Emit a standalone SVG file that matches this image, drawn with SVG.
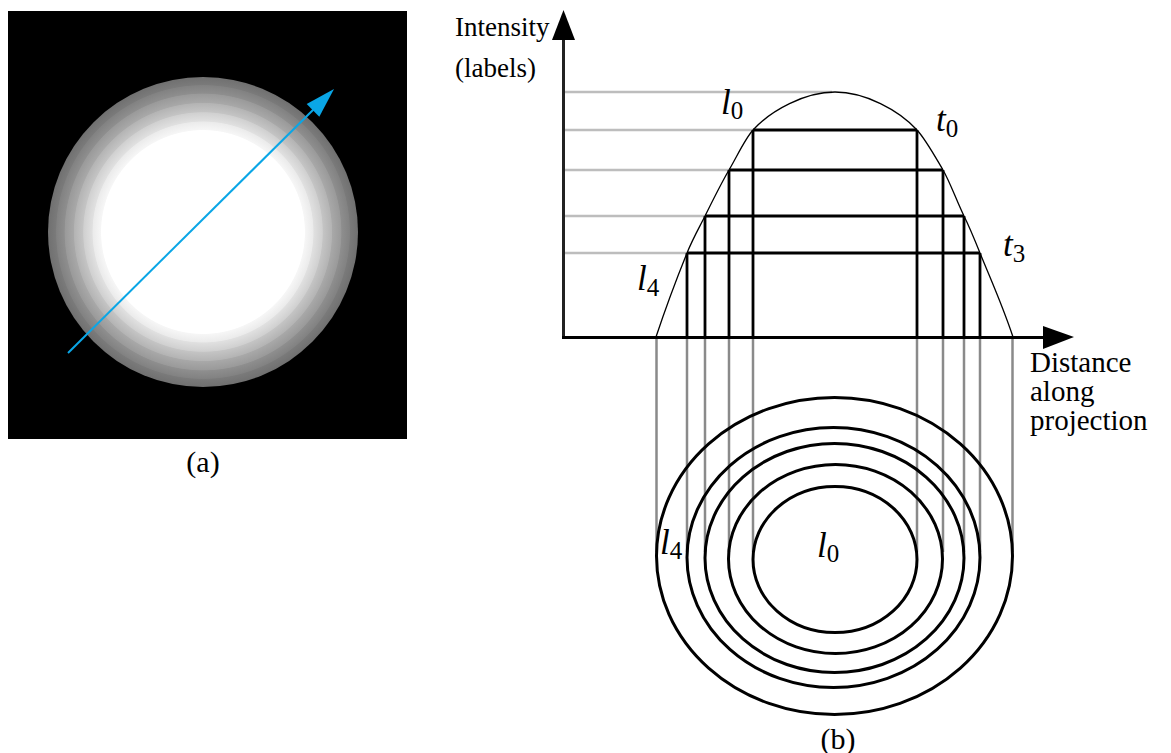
<svg xmlns="http://www.w3.org/2000/svg" width="1171" height="753" viewBox="0 0 1171 753">
<style>
.txt{font-family:"Liberation Serif","Times New Roman",serif;fill:#000}
.it{font-family:"Liberation Serif","Times New Roman",serif;font-style:italic;font-size:35px;fill:#000}
.sub{font-style:normal;font-size:25px}
.gh{stroke:#bdbdbd;stroke-width:2.5;fill:none}
.gv{stroke:#8a8a8a;stroke-width:2.5;fill:none}
.bk{stroke:#000;stroke-width:2.8;fill:none}
.ell{stroke:#000;stroke-width:3;fill:none}
</style>
<defs>
<radialGradient id="glow" cx="203" cy="232" r="155" gradientUnits="userSpaceOnUse">
<stop offset="0" stop-color="#fff"/>
<stop offset="0.655" stop-color="#fff"/>
<stop offset="0.66" stop-color="#f6f6f6"/>
<stop offset="0.71" stop-color="#ebebeb"/>
<stop offset="0.715" stop-color="#e0e0e0"/>
<stop offset="0.77" stop-color="#d0d0d0"/>
<stop offset="0.775" stop-color="#c4c4c4"/>
<stop offset="0.83" stop-color="#b4b4b4"/>
<stop offset="0.835" stop-color="#a8a8a8"/>
<stop offset="0.89" stop-color="#9a9a9a"/>
<stop offset="0.895" stop-color="#8e8e8e"/>
<stop offset="0.945" stop-color="#828282"/>
<stop offset="0.95" stop-color="#7a7a7a"/>
<stop offset="1" stop-color="#707070"/>
</radialGradient>
</defs>
<rect width="1171" height="753" fill="#fff"/>

<g id="panel-a">
<rect x="8" y="11" width="399" height="428" fill="#000"/>
<circle cx="203" cy="232" r="155" fill="url(#glow)"/>
<line x1="68" y1="353" x2="318" y2="105" stroke="#0aa6e6" stroke-width="2"/>
<polygon points="334,89 306.7,104 319.3,116.7" fill="#0aa6e6"/>
<text class="txt" x="203" y="472" font-size="30" text-anchor="middle">(a)</text>
</g>

<g id="connectors">
<g id="gray-levels">
<line class="gh" x1="565" y1="92" x2="832" y2="92"/>
<line class="gh" x1="565" y1="130" x2="753" y2="130"/>
<line class="gh" x1="565" y1="170" x2="729" y2="170"/>
<line class="gh" x1="565" y1="216" x2="705" y2="216"/>
<line class="gh" x1="565" y1="253" x2="687" y2="253"/>
</g>
<g id="black-levels">
<line class="bk" x1="753" y1="130" x2="917" y2="130"/>
<line class="bk" x1="729" y1="170" x2="943" y2="170"/>
<line class="bk" x1="705" y1="216" x2="964" y2="216"/>
<line class="bk" x1="687" y1="253" x2="980" y2="253"/>
<line class="bk" x1="753" y1="130" x2="753" y2="337"/>
<line class="bk" x1="729" y1="170" x2="729" y2="337"/>
<line class="bk" x1="705" y1="216" x2="705" y2="337"/>
<line class="bk" x1="687" y1="253" x2="687" y2="337"/>
<line class="bk" x1="917" y1="130" x2="917" y2="337"/>
<line class="bk" x1="943" y1="170" x2="943" y2="337"/>
<line class="bk" x1="964" y1="216" x2="964" y2="337"/>
<line class="bk" x1="980" y1="253" x2="980" y2="337"/>
</g>
<g id="projections">
<line class="gv" x1="656.5" y1="338" x2="656.5" y2="552"/>
<line class="gv" x1="687" y1="338" x2="687" y2="552"/>
<line class="gv" x1="705" y1="338" x2="705" y2="552"/>
<line class="gv" x1="729" y1="338" x2="729" y2="552"/>
<line class="gv" x1="753" y1="338" x2="753" y2="552"/>
<line class="gv" x1="917" y1="338" x2="917" y2="552"/>
<line class="gv" x1="943" y1="338" x2="943" y2="552"/>
<line class="gv" x1="964" y1="338" x2="964" y2="552"/>
<line class="gv" x1="980" y1="338" x2="980" y2="552"/>
<line class="gv" x1="1012.5" y1="338" x2="1012.5" y2="552"/>
</g>
</g>

<g id="curve">
<path d="M656,337 C666.3,306 676.7,278.5 687,253 C693,238.2 699,228 705,216 C713,200 721,183.6 729,170 C737,156.4 745,138.8 753,130 C771,110.2 805,92 835,92 C865,92 899,110.2 917,130 C925.7,139.5 934.3,155.3 943,170 C950,181.9 957,202 964,216 C969.3,226.7 974.7,239.8 980,253 C991,280.2 1002,304 1013,337" fill="none" stroke="#000" stroke-width="1.3"/>
</g>

<g id="axes">
<line x1="563.5" y1="36" x2="563.5" y2="339" stroke="#222" stroke-width="3"/>
<polygon points="563.5,10 552,40 575,40" fill="#000"/>
<line x1="562" y1="337.5" x2="1046" y2="337.5" stroke="#000" stroke-width="3"/>
<polygon points="1074,337 1043,326 1043,349" fill="#000"/>
<text class="txt" x="455" y="36" font-size="27">Intensity</text>
<text class="txt" x="455" y="77" font-size="27">(labels)</text>
<text class="txt" x="1030" y="372" font-size="29">Distance</text>
<text class="txt" x="1030" y="401" font-size="29">along</text>
<text class="txt" x="1030" y="430" font-size="29">projection</text>
</g>

<g id="ellipses">
<ellipse class="ell" cx="835" cy="559.5" rx="82" ry="73"/>
<ellipse class="ell" cx="835.5" cy="559" rx="107" ry="94.5"/>
<ellipse class="ell" cx="834.5" cy="558" rx="129.5" ry="114.5"/>
<ellipse class="ell" cx="833.5" cy="557.5" rx="146.5" ry="130"/>
<ellipse class="ell" cx="834.5" cy="556" rx="178" ry="158.5"/>
</g>

<g id="labels">
<text class="it" x="721" y="114">l<tspan class="sub" dy="5">0</tspan></text>
<text class="it" x="936" y="131">t<tspan class="sub" dy="6">0</tspan></text>
<text class="it" x="1003" y="256">t<tspan class="sub" dy="6">3</tspan></text>
<text class="it" x="637" y="290">l<tspan class="sub" dy="6">4</tspan></text>
<text class="it" x="660" y="554">l<tspan class="sub" dy="5">4</tspan></text>
<text class="it" x="817" y="557">l<tspan class="sub" dy="5">0</tspan></text>
<text class="txt" x="838" y="749" font-size="30" text-anchor="middle">(b)</text>
</g>
</svg>
